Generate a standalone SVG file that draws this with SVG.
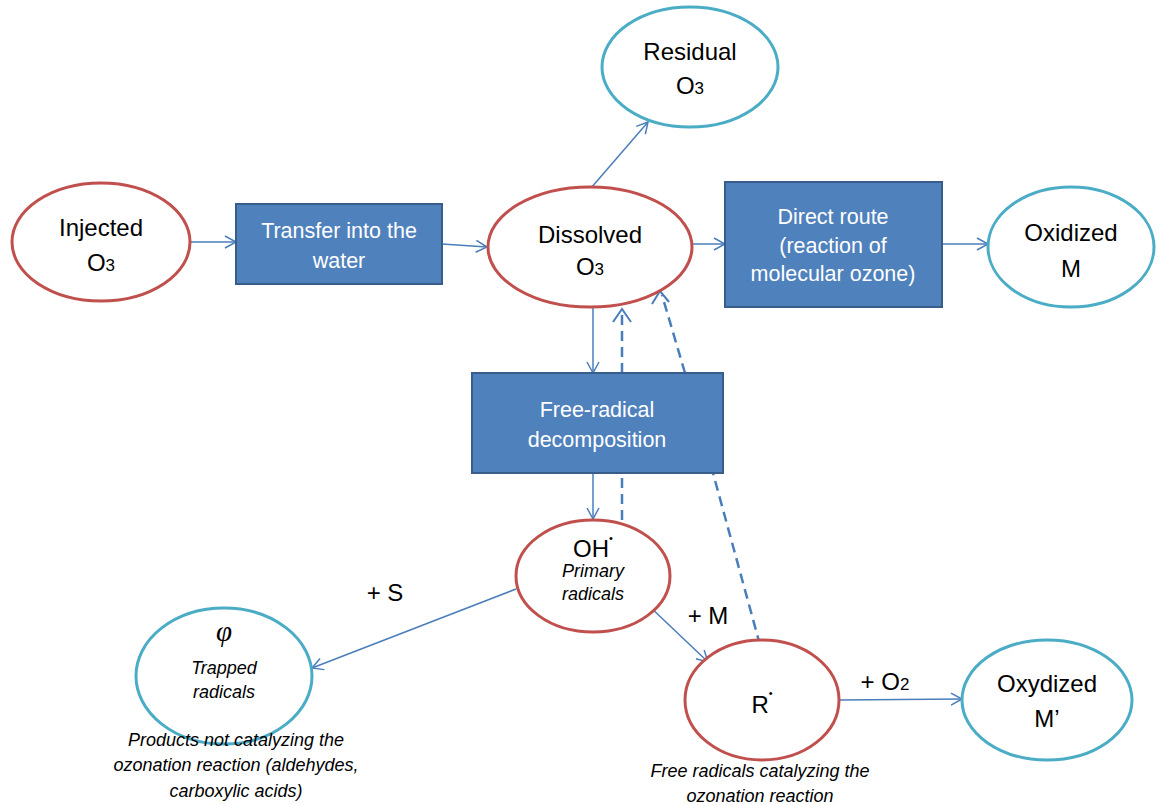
<svg xmlns="http://www.w3.org/2000/svg" width="1158" height="805" viewBox="0 0 1158 805">
<defs>
<marker id="arr" markerWidth="14" markerHeight="14" refX="12" refY="7" orient="auto" markerUnits="userSpaceOnUse">
<path d="M1,1 L12,7 L1,13" fill="none" stroke="#4a7ebb" stroke-width="1.5"/>
</marker>
<style>
.red{fill:#fff;stroke:#c0504d;stroke-width:3}
.cyan{fill:#fff;stroke:#4bacc6;stroke-width:3}
.box{fill:#4f81bd;stroke:#385d8a;stroke-width:2}
.t{font-family:"Liberation Sans",Arial,sans-serif;font-size:24px;fill:#000;text-anchor:middle}
.w{font-family:"Liberation Sans",Arial,sans-serif;font-size:21.5px;fill:#fff;text-anchor:middle}
.i{font-family:"Liberation Sans",Arial,sans-serif;font-size:18px;font-style:italic;fill:#000;text-anchor:middle}
.s{font-size:17px}
.c{fill:none;stroke:#4a7ebb;stroke-width:1.5;marker-end:url(#arr)}
.d{fill:none;stroke:#4a7ebb;stroke-width:2.5;stroke-dasharray:10,6}
</style>
</defs>
<rect width="1158" height="805" fill="#fff"/>
<g id="connectors">
<line class="c" x1="190" y1="242" x2="236" y2="242"/>
<line class="c" x1="442" y1="244" x2="487" y2="247"/>
<line class="c" x1="591" y1="188" x2="648" y2="122"/>
<line class="c" x1="692" y1="244" x2="725" y2="244"/>
<line class="c" x1="942" y1="244" x2="988" y2="244"/>
<line class="c" x1="593" y1="307" x2="593" y2="373"/>
<line class="c" x1="593" y1="473" x2="593" y2="519"/>
<line class="c" x1="516" y1="589" x2="312" y2="668"/>
<line class="c" x1="648" y1="605" x2="708" y2="662"/>
<line class="c" x1="840" y1="700" x2="962" y2="699"/>
<line class="d" x1="622" y1="520" x2="622" y2="473"/>
<line class="d" x1="622" y1="373" x2="622" y2="312"/>
<path d="M613,322 L622,309 L631,322" fill="none" stroke="#4a7ebb" stroke-width="2"/>
<line class="d" x1="760" y1="645" x2="713" y2="473"/>
<line class="d" x1="685" y1="373" x2="662" y2="295"/>
<path d="M652,304 L660,291 L669,302" fill="none" stroke="#4a7ebb" stroke-width="2"/>
</g>
<g id="injected">
<ellipse class="red" cx="101" cy="242" rx="89" ry="59"/>
<text class="t" x="101" y="236">Injected</text>
<text class="t" x="101" y="271">O<tspan class="s">3</tspan></text>
</g>
<g id="transfer">
<rect class="box" x="236" y="204" width="206" height="80"/>
<text class="w" x="339" y="238">Transfer into the</text>
<text class="w" x="339" y="268">water</text>
</g>
<g id="dissolved">
<ellipse class="red" cx="590" cy="247" rx="102" ry="60"/>
<text class="t" x="590" y="243">Dissolved</text>
<text class="t" x="590" y="275">O<tspan class="s">3</tspan></text>
</g>
<g id="residual">
<ellipse class="cyan" cx="690" cy="67" rx="88" ry="60"/>
<text class="t" x="690" y="60">Residual</text>
<text class="t" x="690" y="94">O<tspan class="s">3</tspan></text>
</g>
<g id="direct">
<rect class="box" x="725" y="182" width="217" height="125"/>
<text class="w" x="833" y="224">Direct route</text>
<text class="w" x="833" y="253">(reaction of</text>
<text class="w" x="833" y="281">molecular ozone)</text>
</g>
<g id="oxidized">
<ellipse class="cyan" cx="1071" cy="247" rx="83" ry="60"/>
<text class="t" x="1071" y="241">Oxidized</text>
<text class="t" x="1071" y="277">M</text>
</g>
<g id="freeradical">
<rect class="box" x="472" y="373" width="251" height="100"/>
<text class="w" x="597" y="417">Free-radical</text>
<text class="w" x="597" y="447">decomposition</text>
</g>
<g id="oh">
<ellipse class="red" cx="593" cy="576" rx="77" ry="56"/>
<text class="t" x="593" y="557">OH<tspan dy="-15" font-size="11">•</tspan></text>
<text class="i" x="593" y="577" font-size="15.5">Primary</text>
<text class="i" x="593" y="600" font-size="15.5">radicals</text>
</g>
<g id="trapped">
<ellipse class="cyan" cx="224" cy="676" rx="88" ry="68"/>
<text x="224" y="641" font-family="Liberation Serif,serif" font-style="italic" font-size="29" text-anchor="middle">φ</text>
<text class="i" x="224" y="674" font-size="15.5">Trapped</text>
<text class="i" x="224" y="698" font-size="15.5">radicals</text>
</g>
<g id="r">
<ellipse class="red" cx="762" cy="700" rx="77" ry="60"/>
<text class="t" x="762" y="713">R<tspan dy="-16" font-size="11">•</tspan></text>
</g>
<g id="oxydized">
<ellipse class="cyan" cx="1047" cy="700" rx="85" ry="60"/>
<text class="t" x="1047" y="692">Oxydized</text>
<text class="t" x="1047" y="727">M’</text>
</g>
<g id="labels">
<text class="t" x="385" y="601" font-size="21">+ S</text>
<text class="t" x="708" y="624" font-size="21">+ M</text>
<text class="t" x="885" y="690" font-size="21">+ O<tspan class="s">2</tspan></text>
<text class="i" x="236" y="746">Products not catalyzing the</text>
<text class="i" x="236" y="771">ozonation reaction (aldehydes,</text>
<text class="i" x="236" y="797">carboxylic acids)</text>
<text class="i" x="760" y="777">Free radicals catalyzing the</text>
<text class="i" x="760" y="802">ozonation reaction</text>
</g>
</svg>
